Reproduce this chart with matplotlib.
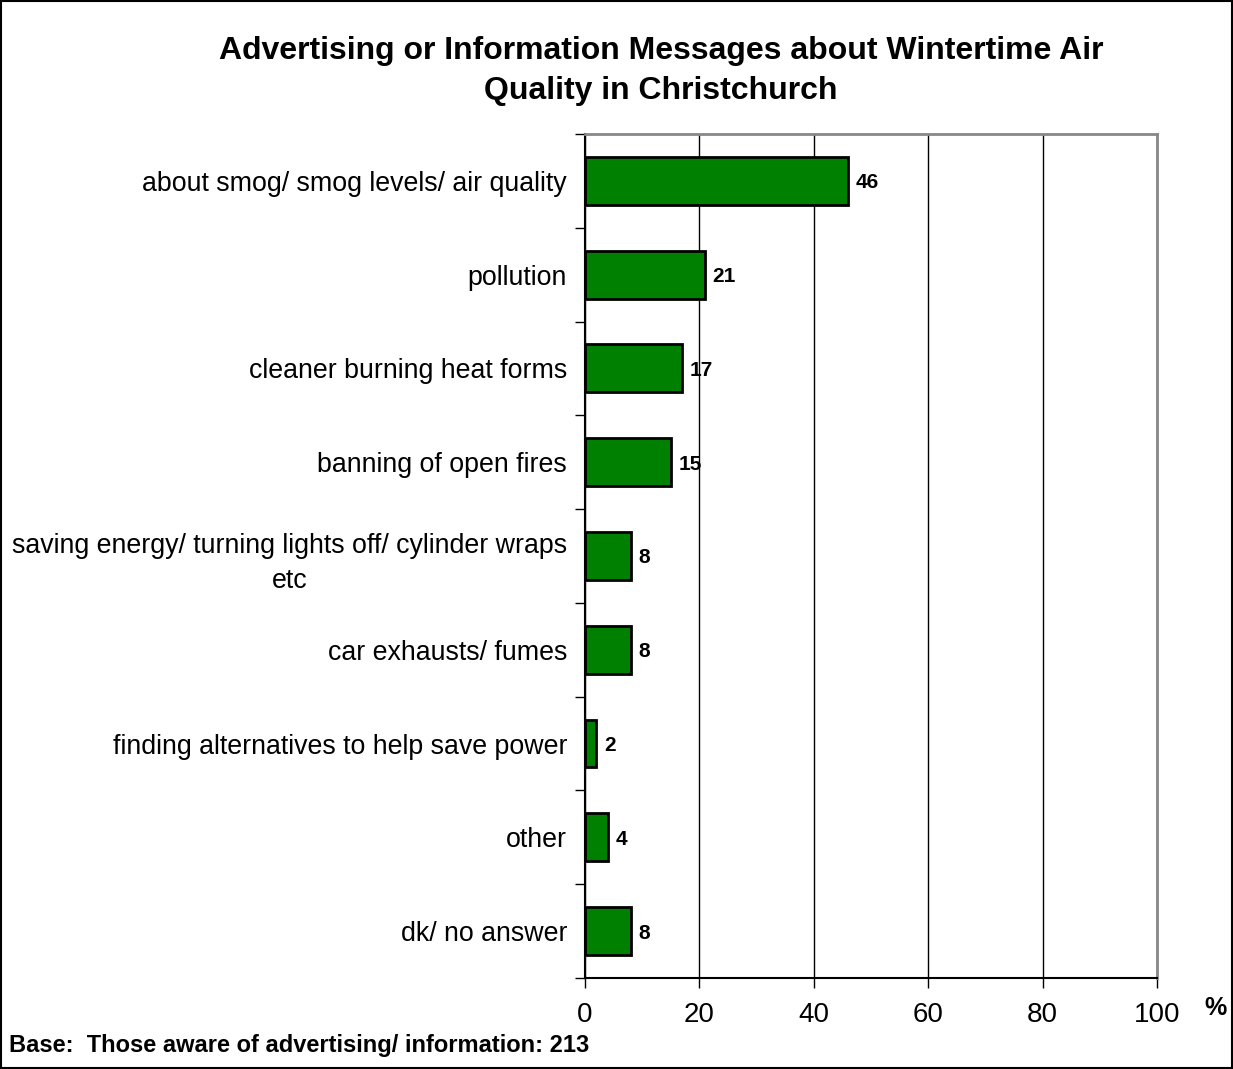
import matplotlib.pyplot as plt
from matplotlib.patches import Rectangle

plt.rcParams['font.family'] = ['Liberation Sans', 'DejaVu Sans']

categories = [
    'about smog/ smog levels/ air quality',
    'pollution',
    'cleaner burning heat forms',
    'banning of open fires',
    'saving energy/ turning lights off/ cylinder wraps\netc',
    'car exhausts/ fumes',
    'finding alternatives to help save power',
    'other',
    'dk/ no answer',
]
values = [46, 21, 17, 15, 8, 8, 2, 4, 8]
xticks = [0, 20, 40, 60, 80, 100]

fig = plt.figure(figsize=(12.33, 10.69), dpi=100)
ax = fig.add_axes([0.4745, 0.0851, 0.4639, 0.7896])

pos = list(range(len(categories)))
ax.barh(pos, values, height=0.51, color='#008000', edgecolor='black', linewidth=2, zorder=3)
for p, v in zip(pos, values):
    ax.text(v + 1.3, p + 0.02, str(v), va='center', ha='left', fontsize=15, fontweight='bold')

ax.set_xlim(0, 100)
ax.set_ylim(len(categories) - 0.5, -0.5)
ax.set_xticks(xticks)
ax.set_xticklabels([str(t) for t in xticks], fontsize=20)
ax.tick_params(axis='x', length=7, width=1, pad=10)
ax.set_yticks(pos)
ax.set_yticklabels(categories, fontsize=19.3, multialignment='center')
for lbl in ax.get_yticklabels():
    lbl.set_linespacing(1.45)
ax.tick_params(axis='y', length=0, pad=13)
# tick marks at category boundaries
ax.set_yticks([p + 0.5 for p in range(-1, len(categories))], minor=True)
ax.tick_params(axis='y', which='minor', length=7, width=1)

ax.grid(axis='x', color='black', linewidth=1, zorder=0)
for s in ['top', 'right']:
    ax.spines[s].set_color('#888888')
    ax.spines[s].set_linewidth(2)
for s in ['left', 'bottom']:
    ax.spines[s].set_color('black')
    ax.spines[s].set_linewidth(1.5)

fig.text(0.536, 0.9335, 'Advertising or Information Messages about Wintertime Air\nQuality in Christchurch',
         ha='center', va='center', fontsize=23, fontweight='bold', linespacing=1.4)
fig.text(0.986, 0.057, '%', ha='center', va='center', fontsize=18, fontweight='bold')
fig.text(0.007, 0.011, 'Base:  Those aware of advertising/ information: 213',
         ha='left', va='bottom', fontsize=17, fontweight='bold')

fig.patches.append(Rectangle((0.001, 0.001), 0.998, 0.998, transform=fig.transFigure,
                             fill=False, edgecolor='black', linewidth=1.5))

fig.savefig('out.png', dpi=100)
